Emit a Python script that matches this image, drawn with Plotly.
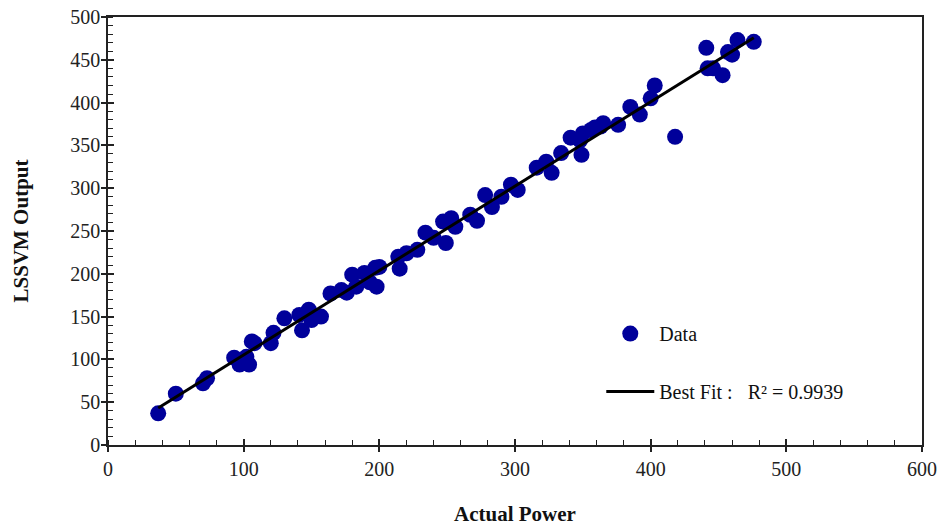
import numpy as np
import plotly.graph_objects as go

actual_power = [37, 50, 70, 73, 93, 97, 102, 104, 106, 108, 120, 122, 130, 141, 143, 148, 150, 157,
                164, 172, 176, 180, 183, 189, 193, 197, 198, 200, 214, 215, 220, 228, 234, 240, 247,
                249, 253, 256, 267, 272, 278, 283, 290, 297, 302, 316, 323, 327, 334, 341, 348, 349,
                350, 356, 359, 363, 365, 376, 385, 392, 400, 403, 418, 441, 442, 446, 453, 457, 460,
                464, 476]
lssvm_output = [37, 60, 72, 78, 102, 94, 103, 94, 121, 119, 119, 131, 148, 152, 134, 158, 146, 150,
                177, 181, 178, 199, 185, 201, 190, 207, 185, 208, 220, 206, 224, 228, 248, 242, 261,
                236, 265, 255, 269, 262, 292, 278, 290, 304, 298, 324, 331, 318, 341, 359, 356, 339,
                364, 368, 371, 372, 376, 374, 395, 386, 405, 420, 360, 464, 440, 440, 432, 459, 456,
                473, 471]
fit_label = "Best Fit :\u00a0\u00a0 R² = 0.9939"
x_ticks = [0, 100, 200, 300, 400, 500, 600]
y_ticks = [0, 50, 100, 150, 200, 250, 300, 350, 400, 450, 500]

xa = np.array(actual_power, dtype=float)
ya = np.array(lssvm_output, dtype=float)
slope, intercept = np.polyfit(xa, ya, 1)
fx = np.array([xa.min(), xa.max()])
fy = slope * fx + intercept

FONT = "Liberation Serif"

fig = go.Figure()
fig.add_trace(go.Scatter(x=actual_power, y=lssvm_output, mode="markers", name="Data",
                         marker=dict(color="#00009a", size=16, line=dict(width=0)),
                         legendgroup="a"))
fig.add_trace(go.Scatter(x=fx, y=fy, mode="lines", name=fit_label,
                         line=dict(color="black", width=3), legendgroup="b"))

axis_common = dict(showline=True, linecolor="#222", linewidth=1.5, mirror=True,
                   showgrid=False, zeroline=False, ticks="outside", ticklen=5,
                   tickwidth=1.5, tickcolor="#222", automargin=False,
                   ticklabeloverflow="allow",
                   tickfont=dict(family=FONT, size=20, color="#222"))

fig.update_layout(
    width=940, height=528,
    margin=dict(l=108, r=18, t=17, b=83),
    plot_bgcolor="white", paper_bgcolor="white",
    xaxis=dict(range=[0, 600], tickvals=x_ticks,
               minor=dict(dtick=20, ticks="inside", ticklen=5, tickcolor="#222", tickwidth=1),
               title=dict(text="<b>Actual Power</b>", font=dict(family=FONT, size=21, color="#111"),
                          standoff=28),
               **axis_common),
    yaxis=dict(range=[0, 500], tickvals=y_ticks, ticklabelstandoff=-3,
               minor=dict(dtick=10, ticks="inside", ticklen=5, tickcolor="#222", tickwidth=1),
               title=dict(text="<b>LSSVM Output</b>", font=dict(family=FONT, size=21, color="#111"),
                          standoff=36),
               **axis_common),
    xaxis2=dict(overlaying="x", matches="x", range=[0, 600], tickvals=x_ticks, ticks="inside",
                ticklen=6, tickwidth=1.5, tickcolor="#222", showticklabels=False,
                showgrid=False, zeroline=False, showline=False, side="bottom"),
    yaxis2=dict(overlaying="y", matches="y", range=[0, 500], tickvals=y_ticks, ticks="inside",
                ticklen=6, tickwidth=1.5, tickcolor="#222", showticklabels=False,
                showgrid=False, zeroline=False, showline=False, side="left"),
    legend=dict(x=0.606, y=0.306, xanchor="left", yanchor="top", bgcolor="rgba(0,0,0,0)",
                font=dict(family=FONT, size=20, color="#111"), tracegroupgap=29,
                traceorder="grouped", itemwidth=48),
    showlegend=True,
)
# invisible trace to activate the overlay axes for the crossing tick halves
fig.add_trace(go.Scatter(x=[None], y=[None], xaxis="x2", yaxis="y2", showlegend=False,
                         hoverinfo="skip"))

fig.write_html("out.html", config={"displayModeBar": False},
               post_script="document.body.style.margin='0';document.body.style.overflow='hidden';")
